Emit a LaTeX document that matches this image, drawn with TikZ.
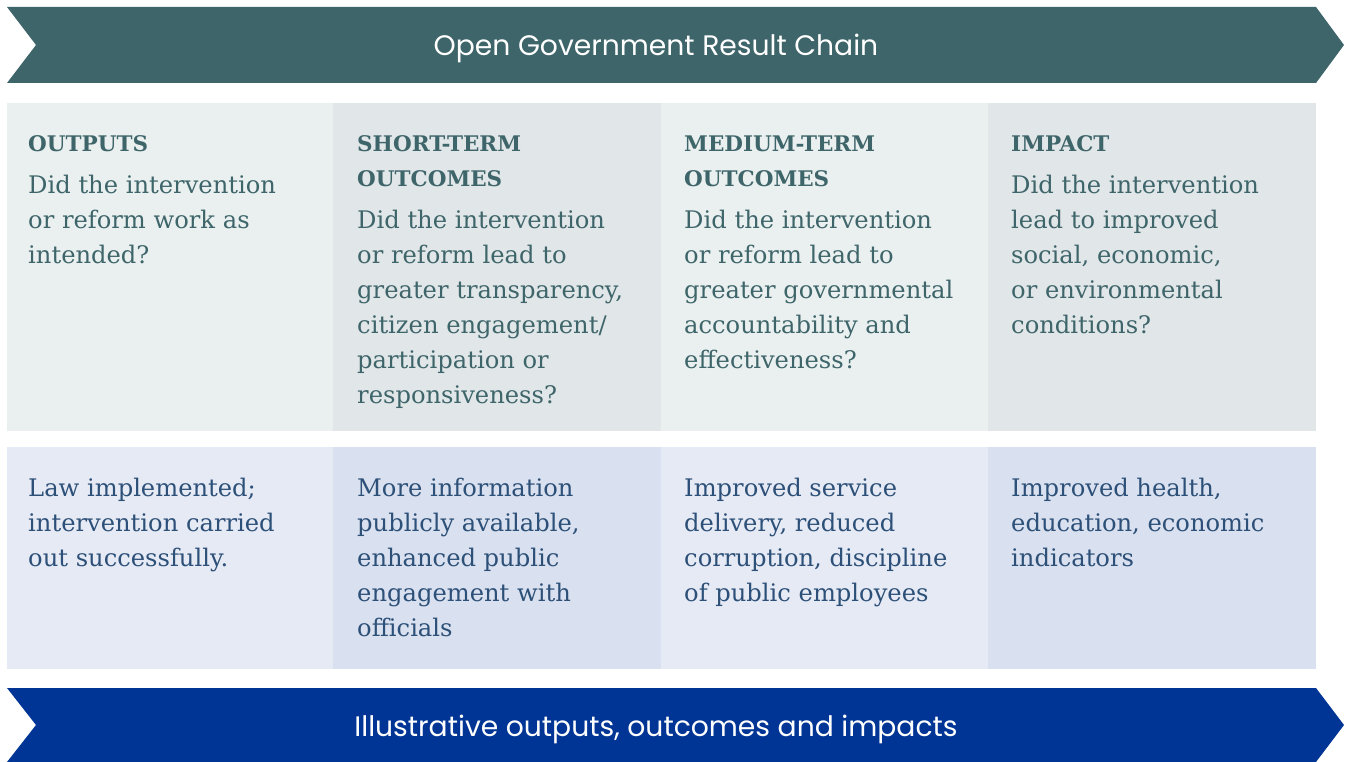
\documentclass[tikz,border=0pt]{standalone}
\usepackage{fontspec}
\setmainfont{DejaVu Serif}
\newfontfamily\bannerfont{Poppins}
\definecolor{teal}{HTML}{3E656A}
\definecolor{navy}{HTML}{003595}
\definecolor{tpA}{HTML}{EAF0EF}
\definecolor{tpB}{HTML}{E1E6E8}
\definecolor{bpA}{HTML}{E6EAF5}
\definecolor{bpB}{HTML}{D9E0EF}
\definecolor{bodyblue}{HTML}{2D5078}
\newcommand\fl{\rule{0pt}{18pt}}
\tikzset{
  head/.style={anchor=north west, inner sep=0pt, align=left, text=teal, font=\fontsize{21.5}{35}\selectfont\bfseries},
  qtext/.style={anchor=north west, inner sep=0pt, align=left, text=teal, font=\fontsize{24.2}{35}\selectfont},
  ex/.style={anchor=north west, inner sep=0pt, align=left, text=bodyblue, font=\fontsize{24.2}{35}\selectfont},
  bantext/.style={anchor=base, inner sep=0pt, text=white, font=\fontsize{28.2}{30}\selectfont\bannerfont}
}
\begin{document}
\begin{tikzpicture}[x=1pt,y=-1pt]
\useasboundingbox (0,0) rectangle (1351,762);
% banners
\fill[teal] (7,7) -- (1316,7) -- (1344,45) -- (1316,83) -- (7,83) -- (36,45) -- cycle;
\node[bantext] (title) at (656,56) {Open Government Result Chain};
\fill[navy] (7,688) -- (1316,688) -- (1344,725) -- (1316,762) -- (7,762) -- (36,725) -- cycle;
\node[bantext] (footer) at (656,736) {Illustrative outputs, outcomes and impacts};
% top panels
\fill[tpA] (7,103) rectangle (333,431);
\fill[tpB] (333,103) rectangle (661,431);
\fill[tpA] (661,103) rectangle (988,431);
\fill[tpB] (988,103) rectangle (1316,431);
% bottom panels
\fill[bpA] (7,447) rectangle (333,669);
\fill[bpB] (333,447) rectangle (661,669);
\fill[bpA] (661,447) rectangle (988,669);
\fill[bpB] (988,447) rectangle (1316,669);
% headings (first baseline 151)
\node[head] (h1) at (28,133) {\fl OUTPUTS};
\node[head] (h2) at (357,133) {\fl SHORT-TERM\\OUTCOMES};
\node[head] (h3) at (684,133) {\fl MEDIUM-TERM\\OUTCOMES};
\node[head] (h4) at (1011,133) {\fl IMPACT};
% questions
\node[qtext] (q1) at (28,175) {\fl Did the intervention\\or reform work as\\intended?};
\node[qtext] (q2) at (357,210) {\fl Did the intervention\\or reform lead to\\greater transparency,\\citizen engagement/\\participation or\\responsiveness?};
\node[qtext] (q3) at (684,210) {\fl Did the intervention\\or reform lead to\\greater governmental\\accountability and\\effectiveness?};
\node[qtext] (q4) at (1011,175) {\fl Did the intervention\\lead to improved\\social, economic,\\or environmental\\conditions?};
% examples
\node[ex] (e1) at (28,478) {\fl Law implemented;\\intervention carried\\out successfully.};
\node[ex] (e2) at (357,478) {\fl More information\\publicly available,\\enhanced public\\engagement with\\officials};
\node[ex] (e3) at (684,478) {\fl Improved service\\delivery, reduced\\corruption, discipline\\of public employees};
\node[ex] (e4) at (1011,478) {\fl Improved health,\\education, economic\\indicators};
\end{tikzpicture}
\end{document}
